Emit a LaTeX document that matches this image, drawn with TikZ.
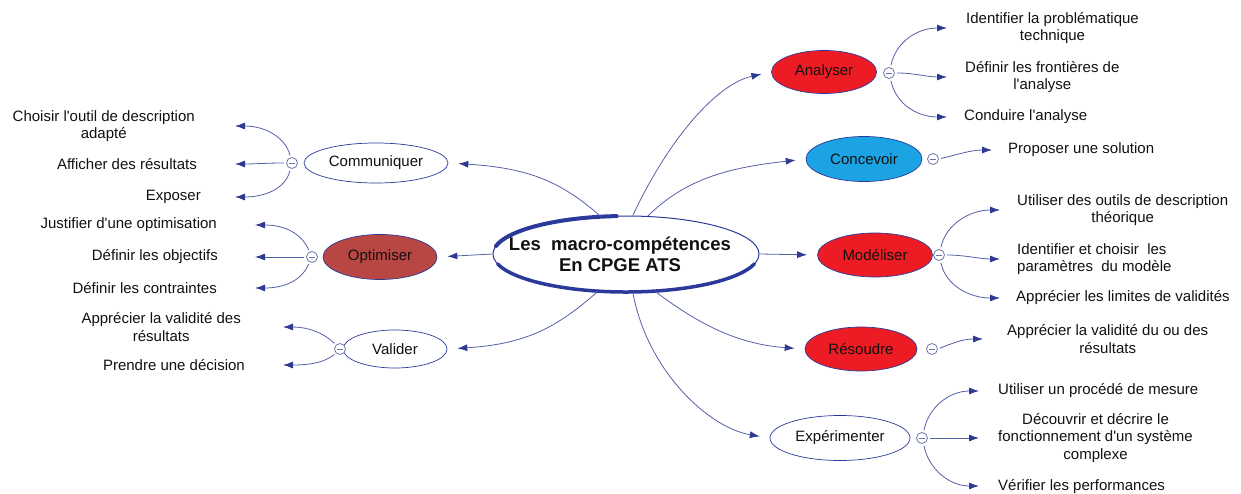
\documentclass[tikz,border=0pt]{standalone}
\usepackage{fontspec}
\setmainfont{Liberation Sans}
\usetikzlibrary{shapes.geometric,arrows.meta}
\newcommand{\apos}{\textquotesingle}
\definecolor{linec}{HTML}{5560A6}
\definecolor{tipc}{HTML}{2E3A92}
\definecolor{ringc}{HTML}{2B3A9A}
\definecolor{minc}{HTML}{6E77AA}
\definecolor{redn}{HTML}{ED1C24}
\definecolor{bluen}{HTML}{1BA3E3}
\definecolor{brownn}{HTML}{B84743}
\definecolor{txtc}{HTML}{111111}
\tikzset{
  conn/.style={draw=linec, line width=0.8pt, -{Latex[length=10pt,width=7pt,color=tipc]}},
  mainconn/.style={conn, shorten >=10pt},
  branch/.style={conn, shorten <=2pt},
  txt/.style={inner sep=0pt, align=center, text=txtc, font=\fontsize{15}{17.5}\selectfont},
  txtl/.style={txt, align=left},
  topic/.style={ellipse, inner sep=0pt, draw=ringc, line width=0.7pt, text=txtc,
     font=\fontsize{15}{17.5}\selectfont},
  minus/.style={circle, draw=minc, fill=white, line width=0.8pt, minimum size=11pt, inner sep=0pt,
     path picture={\draw[minc, line width=0.8pt] ([xshift=-3pt]path picture bounding box.center) -- ([xshift=3pt]path picture bounding box.center);}}
}
\begin{document}
\begin{tikzpicture}[x=1pt,y=-1pt]
\useasboundingbox (0,0) rectangle (1241,494);

% central node
\coordinate (cctr) at (626,254);
\node[ellipse, draw=ringc, fill=white, line width=1pt, minimum width=266pt, minimum height=76pt, inner sep=0pt] (cc) at (cctr) {};
\draw[ringc, line width=4pt, line cap=round] (cctr) ++(192:133 and 38) arc[start angle=192, end angle=266, x radius=133, y radius=38];
\draw[ringc, line width=3.5pt, line cap=round] (cctr) ++(165:133 and 38) arc[start angle=165, end angle=15, x radius=133, y radius=38];
\node[inner sep=0pt, align=center, text=txtc, font=\bfseries\fontsize{18.5}{21}\selectfont] (ct) at (620,254)
      {Les\ \ macro-compétences\\En CPGE ATS};

% topic nodes
\node[topic, fill=redn, minimum width=105pt, minimum height=43pt] (an) at (824,72) {Analyser};
\node[topic, fill=bluen, minimum width=116pt, minimum height=45pt] (cv) at (864,159) {Concevoir};
\node[topic, fill=redn, minimum width=115pt, minimum height=44pt] (md) at (875,255) {Modéliser};
\node[topic, fill=redn, minimum width=112pt, minimum height=44pt] (rs) at (861,349) {Résoudre};
\node[topic, fill=white, minimum width=140pt, minimum height=45pt] (ex) at (840,438) {Expérimenter};
\node[topic, fill=white, minimum width=144pt, minimum height=40pt] (cm) at (376,163) {Communiquer};
\node[topic, fill=brownn, minimum width=114pt, minimum height=45pt] (op) at (380,257) {Optimiser};
\node[topic, fill=white, minimum width=104pt, minimum height=38pt] (va) at (395,349) {Valider};

% central connectors
\draw[mainconn] (cc.80) .. controls +(35,-75) and +(-55,12) .. (an.west);
\draw[mainconn] (cc.60) .. controls +(40,-40) and +(-70,8) .. (cv.west);
\draw[mainconn] (cc.east) -- (md.west);
\draw[mainconn] (cc.-52) .. controls +(40,30) and +(-70,-5) .. (rs.west);
\draw[mainconn] (cc.-80) .. controls +(15,80) and +(-60,-10) .. (ex.west);
\draw[mainconn] (cc.124) .. controls +(-40,-35) and +(80,5) .. (cm.east);
\draw[mainconn] (cc.west) -- (op.east);
\draw[mainconn] (cc.233) .. controls +(-40,35) and +(80,-5) .. (va.east);

% minus markers
\node[minus] (man) at (889,73) {};
\node[minus] (mcv) at (933,159) {};
\node[minus] (mmd) at (939,255) {};
\node[minus] (mrs) at (932,349) {};
\node[minus] (mex) at (922,438) {};
\node[minus] (mcm) at (292,163) {};
\node[minus] (mop) at (312,257) {};
\node[minus] (mva) at (340,349) {};

% tips
\coordinate (ta1) at (947,28);  \coordinate (ta2) at (947,77);  \coordinate (ta3) at (947,117);
\coordinate (tp1) at (992,150);
\coordinate (tm1) at (1000,210); \coordinate (tm2) at (1000,259); \coordinate (tm3) at (1000,298);
\coordinate (tr1) at (983,339);
\coordinate (te1) at (979,391); \coordinate (te2) at (979,438); \coordinate (te3) at (979,486);
\coordinate (tc1) at (235,126); \coordinate (tc2) at (235,164); \coordinate (tc3) at (235,197);
\coordinate (to1) at (255,225); \coordinate (to2) at (255,257); \coordinate (to3) at (255,288);
\coordinate (tv1) at (283,327); \coordinate (tv2) at (283,365);

% texts right
\node[txt, anchor=west] (a1) at (966,28) {Identifier la problématique\\technique};
\node[txt, anchor=west] (a2) at (965,77) {Définir les frontières de\\l\apos analyse};
\node[txt, anchor=west] (a3) at (964,117) {Conduire l\apos analyse};
\node[txt, anchor=west] (p1) at (1008,150) {Proposer une solution};
\node[txt, anchor=west] (m1) at (1017,210) {Utiliser des outils de description\\théorique};
\node[txtl, anchor=west] (m2) at (1017,259) {Identifier et choisir\ \ les\\paramètres\ \ du modèle};
\node[txt, anchor=west] (m3) at (1016,298) {Apprécier les limites de validités};
\node[txt, anchor=west] (r1) at (1007,339) {Apprécier la validité du ou des\\résultats};
\node[txt, anchor=west] (e1) at (998,391) {Utiliser un procédé de mesure};
\node[txt, anchor=west] (e2) at (998,438) {Découvrir et décrire le\\fonctionnement d\apos un système\\complexe};
\node[txt, anchor=west] (e3) at (998,487) {Vérifier les performances};
% texts left
\node[txt, anchor=east] (c1) at (195,126) {Choisir l\apos outil de description\\adapté};
\node[txt, anchor=east] (c2) at (197,164) {Afficher des résultats};
\node[txt, anchor=east] (c3) at (201,197) {Exposer};
\node[txt, anchor=east] (o1) at (217,225) {Justifier d\apos une optimisation};
\node[txt, anchor=east] (o2) at (218,257) {Définir les objectifs};
\node[txt, anchor=east] (o3) at (217,288) {Définir les contraintes};
\node[txt, anchor=east] (v1) at (241,327) {Apprécier la validité des\\résultats};
\node[txt, anchor=east] (v2) at (245,365) {Prendre une décision};

% branches right
\draw[branch] (man.75) .. controls +(5,-25) and +(-30,0) .. (ta1);
\draw[branch] (man.east) .. controls +(20,0) and +(-20,0) .. (ta2);
\draw[branch] (man.-75) .. controls +(5,25) and +(-30,0) .. (ta3);
\draw[branch] (mcv.east) .. controls +(20,-5) and +(-20,0) .. (tp1);
\draw[branch] (mmd.75) .. controls +(5,-25) and +(-30,0) .. (tm1);
\draw[branch] (mmd.east) .. controls +(20,0) and +(-20,0) .. (tm2);
\draw[branch] (mmd.-75) .. controls +(5,25) and +(-30,0) .. (tm3);
\draw[branch] (mrs.east) .. controls +(15,-6) and +(-20,0) .. (tr1);
\draw[branch] (mex.75) .. controls +(5,-25) and +(-30,0) .. (te1);
\draw[branch] (mex.east) -- (te2);
\draw[branch] (mex.-75) .. controls +(5,25) and +(-30,0) .. (te3);
% branches left
\draw[branch] (mcm.105) .. controls +(-5,-20) and +(30,0) .. (tc1);
\draw[branch] (mcm.west) .. controls +(-20,0) and +(20,0) .. (tc2);
\draw[branch] (mcm.-105) .. controls +(-5,20) and +(30,0) .. (tc3);
\draw[branch] (mop.115) .. controls +(-8,-18) and +(30,0) .. (to1);
\draw[branch] (mop.west) -- (to2);
\draw[branch] (mop.-115) .. controls +(-8,18) and +(30,0) .. (to3);
\draw[branch] (mva.135) .. controls +(-12,-12) and +(25,0) .. (tv1);
\draw[branch] (mva.-135) .. controls +(-12,10) and +(25,0) .. (tv2);
\end{tikzpicture}
\end{document}
